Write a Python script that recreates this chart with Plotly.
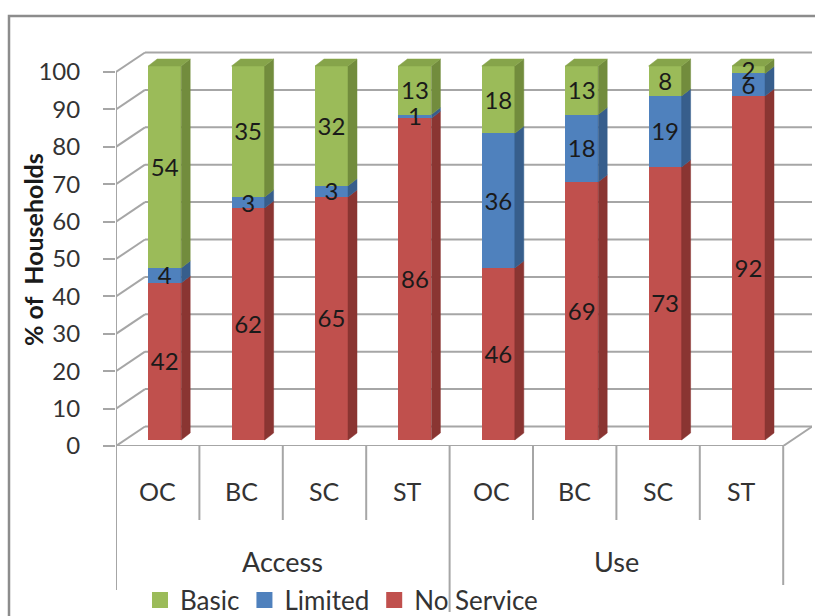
import plotly.graph_objects as go

# ---------------- data ----------------
categories = ["OC", "BC", "SC", "ST", "OC", "BC", "SC", "ST"]
groups = ["Access", "Use"]
group_size = 4
no_service = [42, 62, 65, 86, 46, 69, 73, 92]
limited = [4, 3, 3, 1, 36, 18, 19, 6]
basic = [54, 35, 32, 13, 18, 13, 8, 2]
y_ticks = list(range(0, 101, 10))
series = [
    ("No Service", no_service, "#C0504D", "#A5403D", "#8A3532"),
    ("Limited", limited, "#4F81BD", "#416EA3", "#375E8C"),
    ("Basic", basic, "#9BBB59", "#86A44A", "#728C3D"),
]

# ---------------- geometry (pixels) ----------------
W, H = 815, 616
L, R, T, B = 116, 812, 45, 446
PX_X = 83.4          # px per category
PX_Y = 3.74          # px per percent
x_rng = [-0.5, -0.5 + (R - L) / PX_X]
y_rng = [0, (B - T) / PX_Y]
MID_DX, MID_DY = 7 / PX_X, 6 / PX_Y      # bar front plane offset
DEP_DX, DEP_DY = 9 / PX_X, 7 / PX_Y      # bar depth
BACK_DX, BACK_DY = 29 / PX_X, 19.5 / PX_Y  # back wall offset
BAR_W = 33 / PX_X
LABEL_DY = 3 / PX_Y                       # visual centring of labels


def px(p):
    return (p - L) / (R - L)


def py(p):
    return (B - p) / (B - T)


FONT = "Lato, 'Open Sans', sans-serif"
GRID = "#A6A6A6"
xs = list(range(len(categories)))

fig = go.Figure()

# front faces
for name, vals, c_front, c_top, c_side in series:
    fig.add_trace(go.Bar(
        x=xs, y=vals, name=name, width=BAR_W,
        marker=dict(color=c_front, line=dict(width=0)),
        xaxis="x2", yaxis="y2", hoverinfo="skip", showlegend=False,
    ))

# side and top faces
cum = [0] * len(xs)
tops = {}
for name, vals, c_front, c_top, c_side in series:
    sx, sy = [], []
    for i, v in enumerate(vals):
        y0, y1 = cum[i], cum[i] + v
        xr = i + BAR_W / 2
        sx += [xr, xr + DEP_DX, xr + DEP_DX, xr, xr, None]
        sy += [y0, y0 + DEP_DY, y1 + DEP_DY, y1, y0, None]
        if v > 0:
            tops[i] = (y1, c_top)
        cum[i] = y1
    fig.add_trace(go.Scatter(
        x=sx, y=sy, mode="lines", fill="toself", fillcolor=c_side,
        line=dict(color=c_side, width=0.5), xaxis="x2", yaxis="y2",
        showlegend=False, hoverinfo="skip",
    ))
for i, (ytop, ctop) in tops.items():
    xl = i - BAR_W / 2
    xr = i + BAR_W / 2
    fig.add_trace(go.Scatter(
        x=[xl, xr, xr + DEP_DX, xl + DEP_DX, xl],
        y=[ytop, ytop, ytop + DEP_DY, ytop + DEP_DY, ytop],
        mode="lines", fill="toself", fillcolor=ctop,
        line=dict(color=ctop, width=0.5), xaxis="x2", yaxis="y2",
        showlegend=False, hoverinfo="skip",
    ))

# data labels
cum = [0] * len(xs)
for name, vals, *_ in series:
    mids = [cum[i] + v / 2 - LABEL_DY for i, v in enumerate(vals)]
    cum = [cum[i] + v for i, v in enumerate(vals)]
    fig.add_trace(go.Scatter(
        x=xs, y=mids, mode="text", text=[str(v) for v in vals],
        textfont=dict(family=FONT, size=24, color="#1a1a1a"),
        xaxis="x2", yaxis="y2", showlegend=False, cliponaxis=False,
        hoverinfo="skip",
    ))

# legend entries (square swatches)
for name, vals, c_front, *_ in reversed(series):
    fig.add_trace(go.Scatter(
        x=[None], y=[None], mode="markers", name=name,
        marker=dict(symbol="square", size=16, color=c_front),
        xaxis="x2", yaxis="y2",
    ))

shapes = []
line = dict(color=GRID, width=2)
# back wall gridlines and left wall diagonals
for v in y_ticks:
    shapes.append(dict(type="line", xref="x", yref="y", layer="below",
                       x0=x_rng[0] + BACK_DX, x1=x_rng[1], y0=v + BACK_DY, y1=v + BACK_DY, line=line))
    shapes.append(dict(type="line", xref="x", yref="y", layer="below",
                       x0=x_rng[0], x1=x_rng[0] + BACK_DX, y0=v, y1=v + BACK_DY, line=line))
last = len(categories) - 0.5
# floor front edge, right edge, front axis
shapes.append(dict(type="line", xref="x", yref="y", layer="below",
                   x0=x_rng[0], x1=last, y0=0, y1=0, line=line))
shapes.append(dict(type="line", xref="x", yref="y", layer="below",
                   x0=last, x1=last + BACK_DX, y0=0, y1=BACK_DY, line=line))
shapes.append(dict(type="line", xref="x", yref="y", layer="below",
                   x0=x_rng[0], x1=x_rng[0], y0=0, y1=100, line=line))
# category dividers
for k in range(len(categories) + 1):
    xb = k - 0.5
    if k == 0:
        yb = py(590)
    elif k == len(categories):
        yb = py(585)
    elif k % group_size == 0:
        yb = py(612)
    else:
        yb = py(520)
    shapes.append(dict(type="line", xref="x", yref="paper",
                       x0=xb, x1=xb, y0=0, y1=yb, line=line))
# outer frame
shapes.append(dict(type="rect", xref="paper", yref="paper",
                   x0=px(9), x1=px(825), y0=py(16), y1=py(630),
                   line=dict(color="#8C8C8C", width=2.5)))

annotations = []
for i, c in enumerate(categories):
    annotations.append(dict(x=i, y=py(491), xref="x", yref="paper", text=c,
                            xanchor="center", yanchor="middle",
                            showarrow=False, font=dict(family=FONT, size=25, color="#333333")))
for g, name in enumerate(groups):
    annotations.append(dict(x=g * group_size + (group_size - 1) / 2, y=py(561), xref="x", yref="paper",
                            text=name, showarrow=False, xanchor="center", yanchor="middle",
                            font=dict(family=FONT, size=27, color="#333333")))
annotations.append(dict(x=px(33), y=py(250), xref="paper", yref="paper", text="<b>% of  Households</b>",
                        textangle=-90, showarrow=False, xanchor="center", yanchor="middle",
                        font=dict(family=FONT, size=25, color="#1a1a1a")))

fig.update_layout(
    width=W, height=H,
    margin=dict(l=L, r=W - R, t=T, b=H - B, autoexpand=False),
    paper_bgcolor="white", plot_bgcolor="rgba(0,0,0,0)",
    barmode="stack", bargap=0,
    font=dict(family=FONT, color="#333333"),
    xaxis=dict(range=x_rng, visible=False, fixedrange=True),
    yaxis=dict(range=y_rng, tickvals=y_ticks, showgrid=False, zeroline=False, showline=False,
               ticks="outside", ticklen=12, tickwidth=2, tickcolor=GRID,
               ticklabelstandoff=18, tickfont=dict(family=FONT, size=24, color="#333333")),
    xaxis2=dict(range=[x_rng[0] - MID_DX, x_rng[1] - MID_DX], overlaying="x", visible=False),
    yaxis2=dict(range=[y_rng[0] - MID_DY, y_rng[1] - MID_DY], overlaying="y", visible=False),
    shapes=shapes,
    annotations=annotations,
    showlegend=True,
    legend=dict(orientation="h", xref="container", yref="container",
                x=140 / W, y=1 - 600 / H, xanchor="left", yanchor="middle",
                traceorder="normal",
                font=dict(family=FONT, size=26, color="#333333"),
                bgcolor="rgba(0,0,0,0)", itemwidth=30, tracegroupgap=0),
)

fig.write_html("out.html")
